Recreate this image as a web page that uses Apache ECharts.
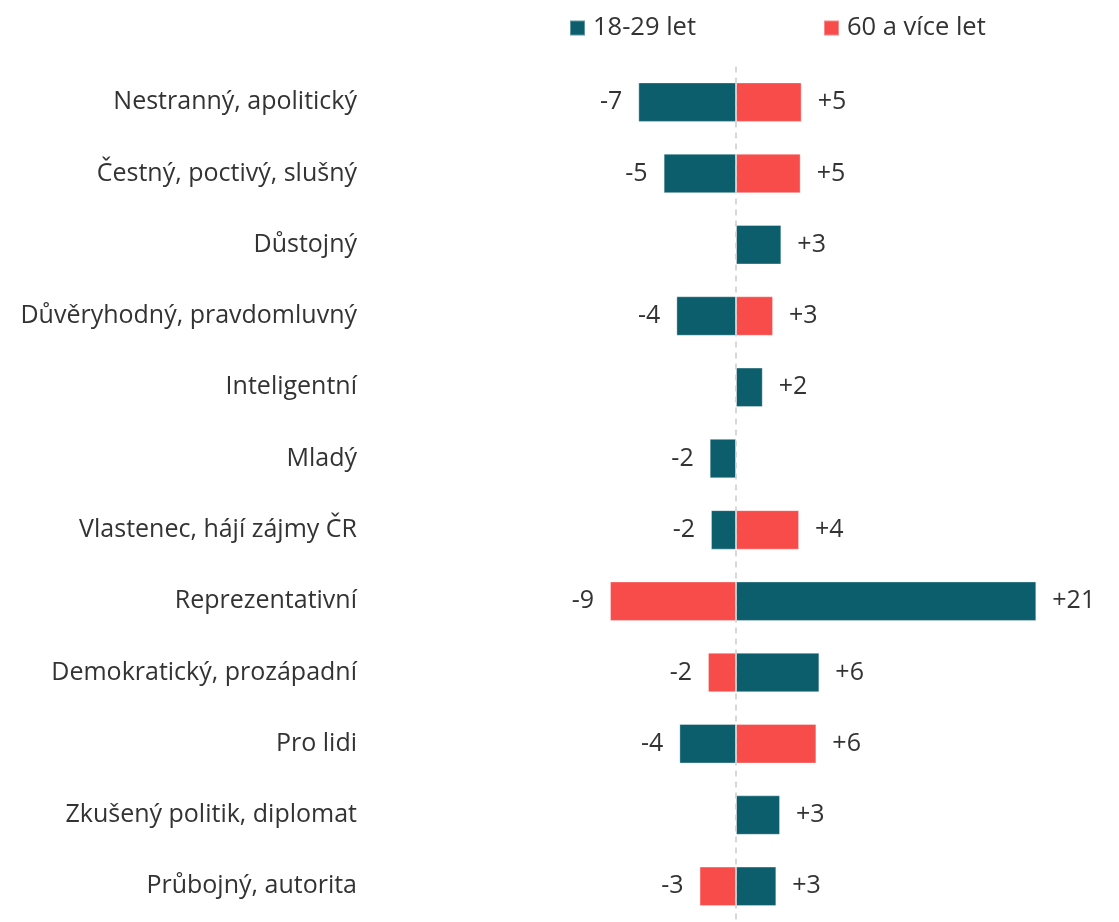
<!DOCTYPE html>
<html>
<head>
<meta charset="utf-8">
<script src="https://cdn.jsdelivr.net/npm/echarts@6/dist/echarts.min.js"></script>
<style>
html,body{margin:0;padding:0;background:#fff;}
#chart{width:1119px;height:922px;}
</style>
</head>
<body>
<div id="chart"></div>
<script>
const categories = [
  'Nestranný, apolitický',
  'Čestný, poctivý, slušný',
  'Důstojný',
  'Důvěryhodný, pravdomluvný',
  'Inteligentní',
  'Mladý',
  'Vlastenec, hájí zájmy ČR',
  'Reprezentativní',
  'Demokratický, prozápadní',
  'Pro lidi',
  'Zkušený politik, diplomat',
  'Průbojný, autorita'
];
const seriesNames = ['18-29 let', '60 a více let'];
const young = [-6.83, -5.06, 3.17, -4.17, 1.87, -1.84, -1.75, 21.0, 5.83, -3.96, 3.08, 2.82];
const old   = [4.59, 4.52, null, 2.59, null, null, 4.41, -8.81, -1.96, 5.62, null, -2.55];

const FONT = '"Open Sans", "Noto Sans", sans-serif';
const TXT = '#333333';
const fmt = p => {
  const v = Math.round(p.value);
  return (v > 0 ? '+' : '') + v;
};
const labelCfg = {
  show: true, position: 'outside', distance: 16,
  formatter: fmt, fontFamily: FONT, fontSize: 25, color: TXT
};

const chart = echarts.init(document.getElementById('chart'), null, {renderer: 'canvas'});
chart.setOption({
  animation: false,
  backgroundColor: '#ffffff',
  textStyle: {fontFamily: FONT},
  legend: {
    data: seriesNames,
    left: 569, top: 15, padding: 0,
    itemWidth: 15, itemHeight: 15, itemGap: 127,
    icon: 'rect',
    textStyle: {fontFamily: FONT, fontSize: 25.5, color: TXT, padding: [0, 0, 0, 3]}
  },
  grid: {left: 378.5, right: 25.5, top: 66.5, bottom: -3, containLabel: false},
  xAxis: {
    type: 'value', min: -25, max: 25,
    show: false,
    splitLine: {show: false}
  },
  yAxis: {
    type: 'category', data: categories, inverse: true,
    axisLine: {show: false}, axisTick: {show: false},
    axisLabel: {fontFamily: FONT, fontSize: 25, color: TXT, margin: 21.5}
  },
  series: [
    {
      name: seriesNames[0], type: 'bar', stack: 'total', data: young,
      barWidth: 39.5,
      itemStyle: {color: '#0c5e6d', borderColor: 'rgba(255,255,255,0.35)', borderWidth: 1},
      label: labelCfg,
      markLine: {
        silent: true, symbol: 'none',
        label: {show: false},
        lineStyle: {color: '#cccccc', type: [6, 5], width: 1.5},
        data: [{xAxis: 0}]
      },
      z: 2
    },
    {
      name: seriesNames[1], type: 'bar', stack: 'total', data: old,
      barWidth: 39.5,
      itemStyle: {color: '#f74c4a', borderColor: 'rgba(255,255,255,0.35)', borderWidth: 1},
      label: labelCfg,
      z: 2
    }
  ]
});
</script>
</body>
</html>
